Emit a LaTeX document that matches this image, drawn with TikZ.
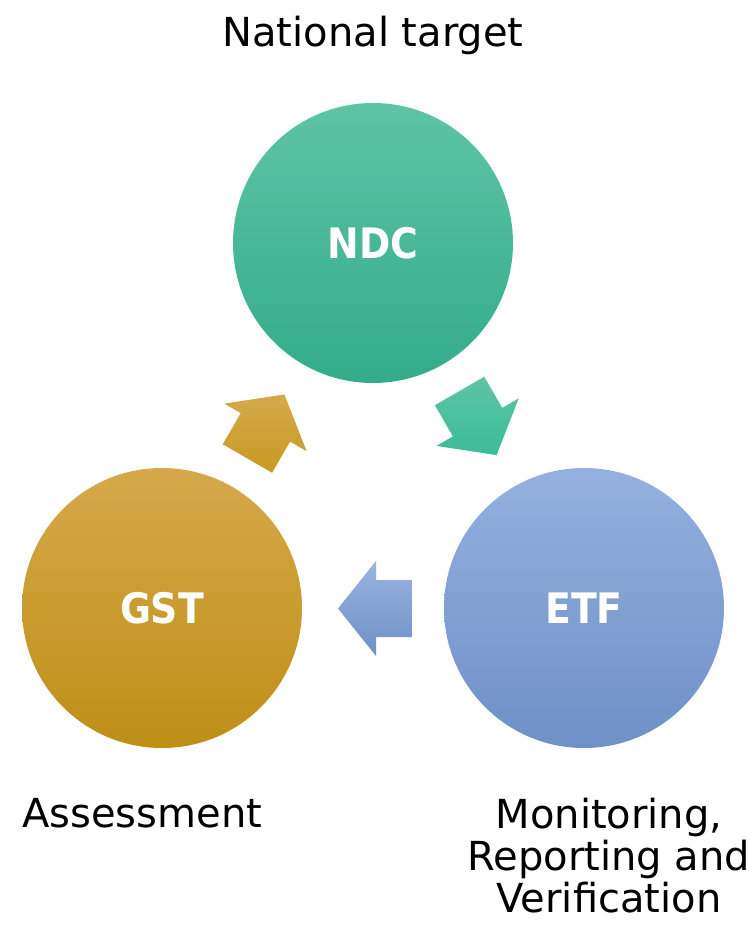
\documentclass[tikz,border=0pt]{standalone}
\usepackage{fontspec}
\setmainfont{DejaVu Sans}
\newfontfamily\labelbold{DejaVu Sans Condensed Bold}
\usetikzlibrary{calc}

% palette
\definecolor{ndcTop}{RGB}{94,196,165}
\definecolor{ndcMid}{RGB}{60,188,152}
\definecolor{ndcBot}{RGB}{51,172,138}
\definecolor{gstTop}{RGB}{213,169,75}
\definecolor{gstMid}{RGB}{210,162,36}
\definecolor{gstBot}{RGB}{190,143,22}
\definecolor{etfTop}{RGB}{148,177,222}
\definecolor{etfMid}{RGB}{128,161,214}
\definecolor{etfBot}{RGB}{111,144,198}

\tikzset{
  phase/.style={circle, minimum size=280pt, inner sep=0pt,
    font=\labelbold\fontsize{42}{44}\selectfont, text=white},
  caption/.style={font=\fontsize{40}{42}\selectfont, text=black, inner sep=0pt},
}

% block arrow of the cycle, turned by #1 degrees about the hub
\newcommand\cyclearrow[3]{%
  \shade[top color=#2, bottom color=#3]
    ($(hub)!1!#1:(a1)$) -- ($(hub)!1!#1:(a2)$) -- ($(hub)!1!#1:(a3)$) --
    ($(hub)!1!#1:(a4)$) -- ($(hub)!1!#1:(a5)$) -- ($(hub)!1!#1:(a6)$) --
    ($(hub)!1!#1:(a7)$) -- cycle;}

\begin{document}
\begin{tikzpicture}[x=1pt, y=-1pt]
  \useasboundingbox (0,0) rectangle (753,928);
  \fill[white] (0,0) rectangle (753,928);

  % the three phases
  \node[phase, top color=ndcTop, middle color=ndcMid, bottom color=ndcBot] (ndc) at (373,243) {NDC};
  \node[phase, top color=gstTop, middle color=gstMid, bottom color=gstBot] (gst) at (162,608) {GST};
  \node[phase, top color=etfTop, middle color=etfMid, bottom color=etfBot] (etf) at (584,608) {ETF};

  % arrow outline (pointing left, between ETF and GST)
  \coordinate (hub) at (373,486);
  \coordinate (a1) at (338,608.5);
  \coordinate (a2) at (376,561);
  \coordinate (a3) at (376,580);
  \coordinate (a4) at (412,580);
  \coordinate (a5) at (412,637);
  \coordinate (a6) at (376,637);
  \coordinate (a7) at (376,656);

  \cyclearrow{0}{etfTop!95!white}{etfBot}
  \cyclearrow{120}{ndcTop}{ndcMid}
  \cyclearrow{240}{gstTop}{gstMid!95!black}

  % captions
  \node[caption, anchor=base] (nt) at (373,47) {National target};
  \node[caption, anchor=base west] (as) at (22,827) {Assessment};
  \node[caption, align=center, anchor=center] (mrv) at (609,856)
    {Monitoring,\\Reporting and\\Verification};
\end{tikzpicture}
\end{document}
